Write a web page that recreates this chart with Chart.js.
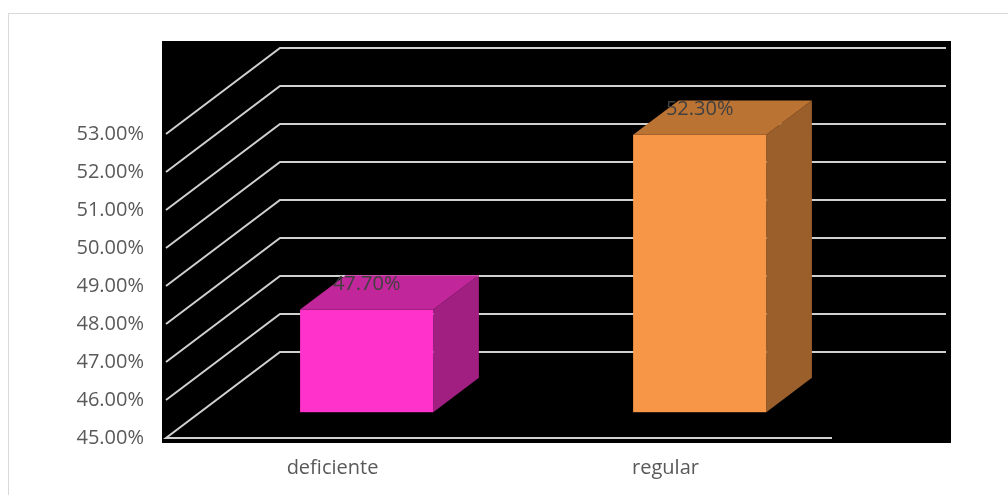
<!DOCTYPE html>
<html>
<head>
<meta charset="utf-8">
<script src="https://cdn.jsdelivr.net/npm/chart.js@4"></script>
<style>
  html, body { margin: 0; padding: 0; background: #fff; }
  #wrap { width: 1008px; height: 495px; position: relative; }
</style>
</head>
<body>
<div id="wrap"><canvas id="chart" width="1008" height="495"></canvas></div>
<script>
// data
const categories = ["deficiente", "regular"];
const values = [47.7, 52.3];
const yMin = 45;
const yMax = 53;

// face colours per bar: front, top, side
const frontColors = ["#ff33cc", "#f79646"];
const topColors = ["#c1269a", "#bb7334"];
const sideColors = ["#a01f80", "#9b5f2c"];

// fake 3d depth (oblique projection)
const DX = 114;
const DY = 86;
const F0 = 0.3; // bar front plane
const F1 = 0.7; // bar back plane

const fontFamily = "'Open Sans', 'DejaVu Sans', sans-serif";

const fmt = (v) => v.toFixed(2) + "%";

const box3d = {
  id: "box3d",
  beforeDraw(chart) {
    const { ctx, chartArea: a } = chart;
    ctx.save();
    // outer chart border
    ctx.strokeStyle = "#d9d9d9";
    ctx.lineWidth = 1;
    ctx.strokeRect(8.5, 13.5, 1010, 500);
    // black plot area
    ctx.fillStyle = "#000";
    ctx.fillRect(a.left - 4, a.top - DY - 7, a.right - a.left + DX + 9, a.bottom - a.top + DY + 12);
    ctx.restore();
  },
  beforeDatasetsDraw(chart) {
    const { ctx, chartArea: a, scales } = chart;
    const y = scales.y;
    ctx.save();
    ctx.strokeStyle = "#d0d0d0";
    ctx.lineWidth = 2;
    y.ticks.forEach((t) => {
      const fy = y.getPixelForValue(t.value);
      ctx.beginPath();
      if (t.value === yMin) {
        ctx.moveTo(a.right, fy);
      }
      ctx.lineTo(a.left, fy);
      ctx.lineTo(a.left + DX, fy - DY);
      ctx.lineTo(a.right + DX, fy - DY);
      ctx.stroke();
    });
    ctx.restore();
  },
  afterDatasetsDraw(chart) {
    const { ctx, scales } = chart;
    const meta = chart.getDatasetMeta(0);
    const base = scales.y.getPixelForValue(yMin);
    ctx.save();
    meta.data.forEach((bar, i) => {
      const p = bar.getProps(["x", "y", "width"], true);
      const l = p.x - p.width / 2 + F0 * DX;
      const r = p.x + p.width / 2 + F0 * DX;
      const t = p.y - F0 * DY;
      const b = base - F0 * DY;
      const ddx = (F1 - F0) * DX;
      const ddy = (F1 - F0) * DY;
      // side
      ctx.fillStyle = sideColors[i];
      ctx.beginPath();
      ctx.moveTo(r, t);
      ctx.lineTo(r + ddx, t - ddy);
      ctx.lineTo(r + ddx, b - ddy);
      ctx.lineTo(r, b);
      ctx.closePath();
      ctx.fill();
      // top
      ctx.fillStyle = topColors[i];
      ctx.beginPath();
      ctx.moveTo(l, t);
      ctx.lineTo(l + ddx, t - ddy);
      ctx.lineTo(r + ddx, t - ddy);
      ctx.lineTo(r, t);
      ctx.closePath();
      ctx.fill();
      // front
      ctx.fillStyle = frontColors[i];
      ctx.fillRect(l, t, r - l, b - t);
      // value label
      ctx.fillStyle = "#404040";
      ctx.font = "20px " + fontFamily;
      ctx.textAlign = "center";
      ctx.textBaseline = "middle";
      ctx.fillText(fmt(values[i]), p.x + F0 * DX, p.y - 0.6 * DY);
    });
    ctx.restore();
  },
};

new Chart(document.getElementById("chart").getContext("2d"), {
  type: "bar",
  data: {
    labels: categories,
    datasets: [
      {
        data: values,
        backgroundColor: "transparent",
        borderWidth: 0,
        barPercentage: 0.4,
        categoryPercentage: 1,
      },
    ],
  },
  options: {
    responsive: false,
    animation: false,
    layout: { padding: { left: 8, right: 176, top: 134, bottom: 0 } },
    plugins: {
      legend: { display: false },
      tooltip: { enabled: false },
    },
    scales: {
      y: {
        min: yMin,
        max: yMax,
        border: { display: false },
        grid: { display: false, drawTicks: false },
        ticks: {
          stepSize: 1,
          padding: 22,
          color: "#595959",
          font: { family: fontFamily, size: 20 },
          callback: (v) => fmt(v),
        },
        afterFit: (s) => { s.width = 158; },
      },
      x: {
        border: { display: false },
        grid: { display: false, drawTicks: false },
        ticks: {
          padding: 18,
          color: "#595959",
          font: { family: fontFamily, size: 20 },
        },
        afterFit: (s) => { s.height = 57; },
      },
    },
  },
  plugins: [box3d],
});
</script>
</body>
</html>
